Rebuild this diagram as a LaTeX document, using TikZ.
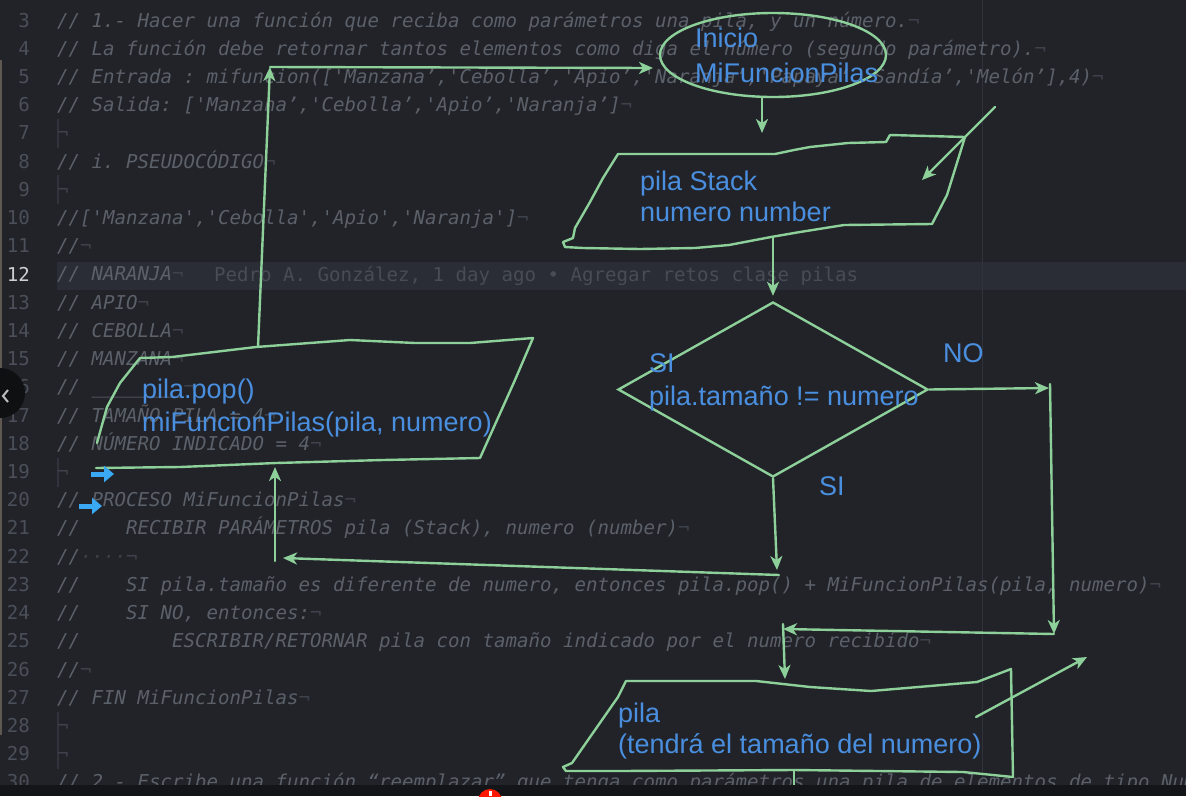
\documentclass[tikz,border=0pt]{standalone}
\usepackage{fontspec}
\setmonofont{DejaVu Sans Mono}[ItalicFont={DejaVu Sans Mono Oblique}]
\newfontfamily\handfont{Liberation Sans}
\usetikzlibrary{arrows.meta,shapes.geometric}

\definecolor{bgc}{HTML}{212329}
\definecolor{codec}{HTML}{5B6069}
\definecolor{numc}{HTML}{4A4F59}
\definecolor{curc}{HTML}{2A2D35}
\definecolor{eolc}{HTML}{3D414A}
\definecolor{blamec}{HTML}{474C56}
\definecolor{guidec}{HTML}{30333B}
\definecolor{greenc}{HTML}{8DD09A}
\definecolor{bluec}{HTML}{4A8FDF}
\definecolor{gutc}{HTML}{3AA8F2}
\definecolor{barc}{HTML}{141518}
\definecolor{stripc}{HTML}{5E5850}

\newcommand{\eol}{{\color{eolc}¬}}

\begin{document}
\begin{tikzpicture}[x=1pt,y=-1pt,
  codeline/.style={anchor=base west,inner sep=0pt,text=codec,font=\ttfamily\itshape\fontsize{19.1}{22}\selectfont\frenchspacing},
  lineno/.style={anchor=base east,inner sep=0pt,text=numc,font=\ttfamily\fontsize{19.1}{22}\selectfont},
  hand/.style={draw=greenc,line width=2.4pt,line join=round,line cap=round},
  flow/.style={hand,-{Stealth[length=14pt,width=12pt,inset=4pt]}},
  handtxt/.style={anchor=base west,inner sep=0pt,text=bluec,font=\handfont\fontsize{27}{30}\selectfont},
  gutarrow/.style={draw=gutc,line width=5pt,-{Triangle[length=10pt,width=16pt]}}]
\useasboundingbox (0,0) rectangle (1186,796);
\fill[bgc] (0,0) rectangle (1186,796);
% editor: current line, wrap guide, gutter
\fill[curc] (57,262) rectangle (1186,290);
\draw[guidec,line width=1pt] (982,0) -- (982,785);
\draw[stripc,line width=2.5pt] (1,60) -- (1,735);
\foreach \row in {3,...,11,13,14,...,30}
  \node[lineno] (n\row) at (30,{27+(\row-3)*28.22}) {\row};
\node[lineno,text=white!78!bgc] (n12) at (30,281) {12};

% pseudocode comments
\foreach \row/\txt in {
  3/{// 1.- Hacer una función que reciba como parámetros una pila, y un número.\eol},
  4/{// La función debe retornar tantos elementos como diga el número (segundo parámetro).\eol},
  5/{// Entrada : mifuncion(['Manzana’,'Cebolla’,'Apio’,'Naranja’,'Papaya’,'Sandía’,'Melón’],4)\eol},
  6/{// Salida: ['Manzana’,'Cebolla’,'Apio’,'Naranja’]\eol},
  8/{// i. PSEUDOCÓDIGO\eol},
  10/{//['Manzana','Cebolla','Apio','Naranja']\eol},
  11/{//\eol},
  12/{// NARANJA\eol},
  13/{// APIO\eol},
  14/{// CEBOLLA\eol},
  15/{// MANZANA\eol},
  16/{// \_\_\_\_\_\_\_\_\eol},
  17/{// TAMAÑO PILA = 4\eol},
  18/{// NÚMERO INDICADO = 4\eol},
  20/{// PROCESO MiFuncionPilas\eol},
  21/{//\ \ \ \ RECIBIR PARÁMETROS pila (Stack), numero (number)\eol},
  22/{//{\color{eolc}····}\eol},
  23/{//\ \ \ \ SI pila.tamaño es diferente de numero, entonces pila.pop() + MiFuncionPilas(pila, numero)\eol},
  24/{//\ \ \ \ SI NO, entonces:\eol},
  25/{//\ \ \ \ \ \ \ \ ESCRIBIR/RETORNAR pila con tamaño indicado por el numero recibido\eol},
  26/{//\eol},
  27/{// FIN MiFuncionPilas\eol},
  30/{// 2.- Escribe una función “reemplazar” que tenga como parámetros una pila de elementos de tipo Numero}}
  \node[codeline] (l\row) at (57,{27+(\row-3)*28.22}) {\txt};
\foreach \row in {7,9,19,28,29} {
  \draw[guidec,line width=1.2pt] (58,{6+(\row-3)*28.22}) -- +(0,29);
  \node[codeline] (l\row) at (57,{27+(\row-3)*28.22}) {\eol};
}
\node[codeline,text=blamec,font=\ttfamily\fontsize{19.1}{22}\selectfont] (blame) at (214,281)
  {Pedro A. González, 1 day ago • Agregar retos clase pilas};

% flowchart
\node[ellipse,draw=greenc,line width=2.4pt,minimum width=226pt,minimum height=84pt,inner sep=0pt] (inicio) at (773,55) {};
\draw[hand] (618,154) -- (775,154) -- (794,150) -- (810,147) -- (848,143) -- (886,142) -- (890,135)
  -- (965,137) -- (947,195) -- (932,224) -- (844,225) -- (800,232) -- (771,237) -- (729,245)
  -- (695,248) -- (640,249) -- (583,248) -- (565,247) -- (563,242) -- (573,238) -- (575,228)
  -- (590,202) -- (603,178) -- cycle;
\node[diamond,draw=greenc,line width=2.4pt,minimum width=310pt,minimum height=175pt,inner sep=0pt] (cond) at (773,389.5) {};
\draw[hand] (97,443) -- (107,407) -- (120,383) -- (140,358) -- (172,357) -- (256,347) -- (350,340)
  -- (415,343) -- (470,343) -- (533,338) -- (515,380) -- (480,458) -- (383,460) -- (276,463)
  -- (180,467) -- (96,468);
\draw[hand] (626,681) -- (756,681) -- (810,687) -- (871,691) -- (930,686) -- (977,682) -- (1011,669)
  -- (1013,777) -- (963,772) -- (794,770) -- (620,771) -- (566,771) -- (563,767) -- (572,763)
  -- (588,740) -- (618,697) -- cycle;

\coordinate (inicioS) at (762,97);
\coordinate (stackN) at (762,133);
\coordinate (stackS) at (773,237);
\coordinate (dataIn) at (995,107);
\coordinate (dataInEnd) at (922,180);
\coordinate (noR) at (1049,388);
\coordinate (noRtop) at (1050,384);
\coordinate (noRbot) at (1054,634);
\coordinate (noL) at (783,629);
\coordinate (noLtop) at (783,624);
\coordinate (outN) at (785,679);
\coordinate (siEnd) at (777,570);
\coordinate (siBack) at (779,575);
\coordinate (popR) at (283,558);
\coordinate (popUp) at (275,561);
\coordinate (popS) at (275,467);
\coordinate (popN) at (258,347);
\coordinate (loopC) at (270,67);
\coordinate (inicioW) at (653,68);
\coordinate (outS) at (794,770);
\coordinate (outExit) at (794,790);
\coordinate (dataOut) at (976,717);
\coordinate (dataOutEnd) at (1087,657);

\draw[flow] (inicioS) -- (stackN);
\draw[flow] (dataIn) -- (dataInEnd);
\draw[flow,shorten >=5pt] (stackS) -- (cond.north);
\draw[flow] (cond.east) -- (noR);
\draw[flow] (noRtop) -- (noRbot);
\draw[flow] (noRbot) -- (noL);
\draw[flow] (noLtop) -- (outN);
\draw[flow] (cond.south) -- (siEnd);
\draw[flow] (siBack) -- (popR);
\draw[flow] (popUp) -- (popS);
\draw[flow] (popN) -- (loopC);
\draw[flow] (loopC) -- (inicioW);
\draw[hand] (outS) -- (outExit);
\draw[flow] (dataOut) -- (dataOutEnd);

\node[handtxt] (inicioA) at (695,47) {Inicio};
\node[handtxt] (inicioB) at (695,82) {MiFuncionPilas};
\node[handtxt] (stackA) at (640,190) {pila Stack};
\node[handtxt] (stackB) at (640,221) {numero number};
\node[handtxt] (siA) at (649,372) {SI};
\node[handtxt] (condTxt) at (649,405) {pila.tamaño != numero};
\node[handtxt] (noTxt) at (943,362) {NO};
\node[handtxt] (siB) at (819,495) {SI};
\node[handtxt] (popA) at (142,398) {pila.pop()};
\node[handtxt] (popB) at (142,431) {miFuncionPilas(pila, numero)};
\node[handtxt] (outA) at (618,722) {pila};
\node[handtxt] (outB) at (618,753) {(tendrá el tamaño del numero)};

% gutter marks, side button, status bar
\draw[gutarrow] (91,474) -- (114,474);
\draw[gutarrow] (79,506) -- (102,506);
\fill[black!55!bgc] (0,393) circle (25);
\draw[white!70!bgc,line width=2pt] (8,390) -- (3,396) -- (8,402);
\fill[barc] (0,785) rectangle (1186,796);
\fill[red!80!orange] (490,801) circle (12);
\fill[white] (489,791) rectangle (491.5,796);
\end{tikzpicture}
\end{document}
